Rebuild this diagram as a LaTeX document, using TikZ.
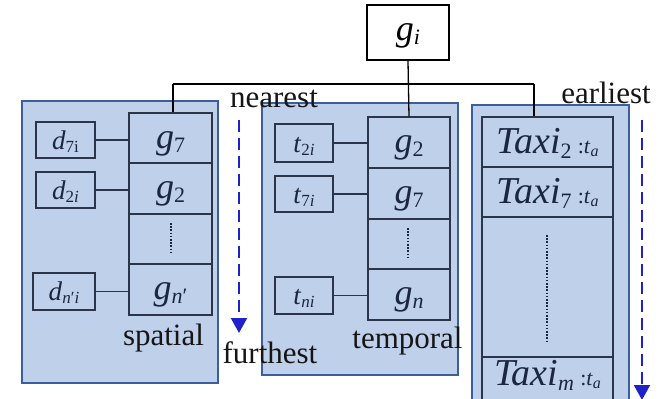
\documentclass[tikz,border=0pt]{standalone}
\usepackage{fontspec}
\setmainfont{Liberation Serif}
\usetikzlibrary{arrows.meta}
\newcommand\sub[3]{\raisebox{-#3}{\fontsize{#2}{#2}\selectfont #1}}
\newcommand\taxita{\,{\fontsize{22}{22}\selectfont :\textit{t}}\sub{\textit{a}}{16}{3pt}}
\definecolor{panelfill}{HTML}{BFD0EA}
\definecolor{panelline}{HTML}{3C5F9C}
\definecolor{boxline}{HTML}{2B3448}
\definecolor{inktxt}{HTML}{1B2640}
\definecolor{arrowblue}{HTML}{1F22C8}
\definecolor{lbltxt}{HTML}{151515}
\tikzset{
 panel/.style={draw=panelline, fill=panelfill, line width=2pt, inner sep=0pt},
 cell/.style={draw=boxline, line width=1.4pt, inner sep=0pt, text=inktxt, font=\fontsize{36}{38}\selectfont, text height=20pt, text depth=0pt},
 small/.style={draw=boxline, line width=1.4pt, inner sep=0pt, text=inktxt, font=\fontsize{27}{29}\selectfont, text height=18pt, text depth=0pt},
 taxi/.style={cell, font=\fontsize{38}{40}\selectfont, text height=22pt},
 lbl/.style={font=\fontsize{31}{33}\selectfont, inner sep=0pt, anchor=base, text=lbltxt},
 link/.style={draw=boxline, line width=1.3pt},
 dotln/.style={draw=inktxt, line width=2pt, dash pattern=on 1.6pt off 1.6pt},
 flow/.style={draw=arrowblue, line width=2.2pt, dash pattern=on 12pt off 6pt, -{Triangle[length=15pt,width=16pt]}},
}
\begin{document}
\begin{tikzpicture}[x=1pt,y=-1pt]
\useasboundingbox (0,0) rectangle (662,399);
\clip (0,0) rectangle (662,399);
% root
\node[draw=black, line width=1.4pt, minimum width=82pt, minimum height=55pt, inner sep=0pt, font=\fontsize{36}{38}\selectfont, text height=15pt, text depth=0pt] (gi) at (408,32.5) {\textit{g}\sub{\textit{i}}{22}{4pt}};
% panels
\node[panel, minimum width=196pt, minimum height=282pt] (sp) at (120,242) {};
\node[panel, minimum width=196pt, minimum height=272pt] (tp) at (360,239) {};
\node[panel, minimum width=157pt, minimum height=315pt] (rp) at (550.5,262.5) {};
% left column
\node[cell, minimum width=83pt, minimum height=50pt] (g7) at (170.5,138) {\textit{g}\sub{7}{22}{4pt}};
\node[cell, minimum width=83pt, minimum height=51pt] (g2) at (170.5,188.5) {\textit{g}\sub{2}{22}{4pt}};
\node[cell, minimum width=83pt, minimum height=50pt] (ld) at (170.5,239) {};
\node[cell, minimum width=83pt, minimum height=51pt] (gn1) at (170.5,289.5) {\textit{g}\sub{\textit{n}′}{22}{4pt}};
\coordinate (ld1) at (170.5,223);
\coordinate (ld2) at (170.5,253);
\draw[dotln] (ld1) -- (ld2);
\node[small, minimum width=59pt, minimum height=36pt] (d7) at (65.5,140) {\textit{d}\sub{7i}{17}{3pt}};
\node[small, minimum width=59pt, minimum height=36pt] (d2) at (65.5,190) {\textit{d}\sub{2\textit{i}}{17}{3pt}};
\node[small, minimum width=62pt, minimum height=37pt] (dn) at (64,291.5) {\textit{d}\sub{\textit{n}′\textit{i}}{17}{3pt}};
\draw[link] (d7.east) -- (d7.east -| g7.west);
\draw[link] (d2.east) -- (d2.east -| g2.west);
\draw[link] (dn.east) -- (dn.east -| gn1.west);
% middle column
\node[cell, minimum width=82pt, minimum height=51pt] (m2) at (409,142.5) {\textit{g}\sub{2}{22}{4pt}};
\node[cell, minimum width=82pt, minimum height=51pt] (m7) at (409,193.5) {\textit{g}\sub{7}{22}{4pt}};
\node[cell, minimum width=82pt, minimum height=50pt] (md) at (409,244) {};
\node[cell, minimum width=82pt, minimum height=51pt] (mn) at (409,294.5) {\textit{g}\sub{\textit{n}}{22}{4pt}};
\coordinate (md1) at (408,228);
\coordinate (md2) at (408,258);
\draw[dotln] (md1) -- (md2);
\node[small, minimum width=58pt, minimum height=38pt] (t2) at (304,143) {\textit{t}\sub{2\textit{i}}{17}{3pt}};
\node[small, minimum width=58pt, minimum height=36pt] (t7) at (304,194) {\textit{t}\sub{7\textit{i}}{17}{3pt}};
\node[small, minimum width=58pt, minimum height=37pt] (tn) at (304,295.5) {\textit{t}\sub{\textit{ni}}{17}{3pt}};
\draw[link] (t2.east) -- (t2.east -| m2.west);
\draw[link] (t7.east) -- (t7.east -| m7.west);
\draw[link] (tn.east) -- (tn.east -| mn.west);
% right column
\node[taxi, minimum width=131pt, minimum height=50pt] (T2) at (547.5,142) {\textit{Taxi}\sub{2}{22}{5pt}\taxita};
\node[taxi, minimum width=131pt, minimum height=50pt] (T7) at (547.5,192) {\textit{Taxi}\sub{7}{22}{5pt}\taxita};
\node[taxi, minimum width=131pt, minimum height=140pt] (Td) at (547.5,287) {};
\node[taxi, minimum width=131pt, minimum height=56pt, text height=0pt] (Tm) at (547.5,385) {\textit{Taxi}\sub{\textit{m}}{22}{5pt}\taxita};
\coordinate (rd1) at (547,235);
\coordinate (rd2) at (547,343);
\draw[dotln] (rd1) -- (rd2);
% tree connectors
\coordinate (lj) at (173,84);
\coordinate (rj) at (534,84);
\draw[link, draw=black] (gi.south) -- (m2.north);
\draw[link, draw=black] (lj) -- (rj);
\draw[link, draw=black] (lj) -- (lj |- g7.north);
\draw[link, draw=black] (rj) -- (rj |- T2.north);
% labels
\node[lbl] (near) at (274,107) {nearest};
\node[lbl] (fur) at (270,363) {furthest};
\node[lbl] (spat) at (163.5,345) {spatial};
\node[lbl] (temp) at (407.5,348) {temporal};
\node[lbl] (earl) at (606,103) {earliest};
% ordering arrows
\coordinate (a1) at (239,120);
\coordinate (a2) at (239,333);
\draw[flow] (a1) -- (a2);
\coordinate (b1) at (642,120);
\coordinate (b2) at (642,400);
\draw[flow] (b1) -- (b2);
\end{tikzpicture}
\end{document}
